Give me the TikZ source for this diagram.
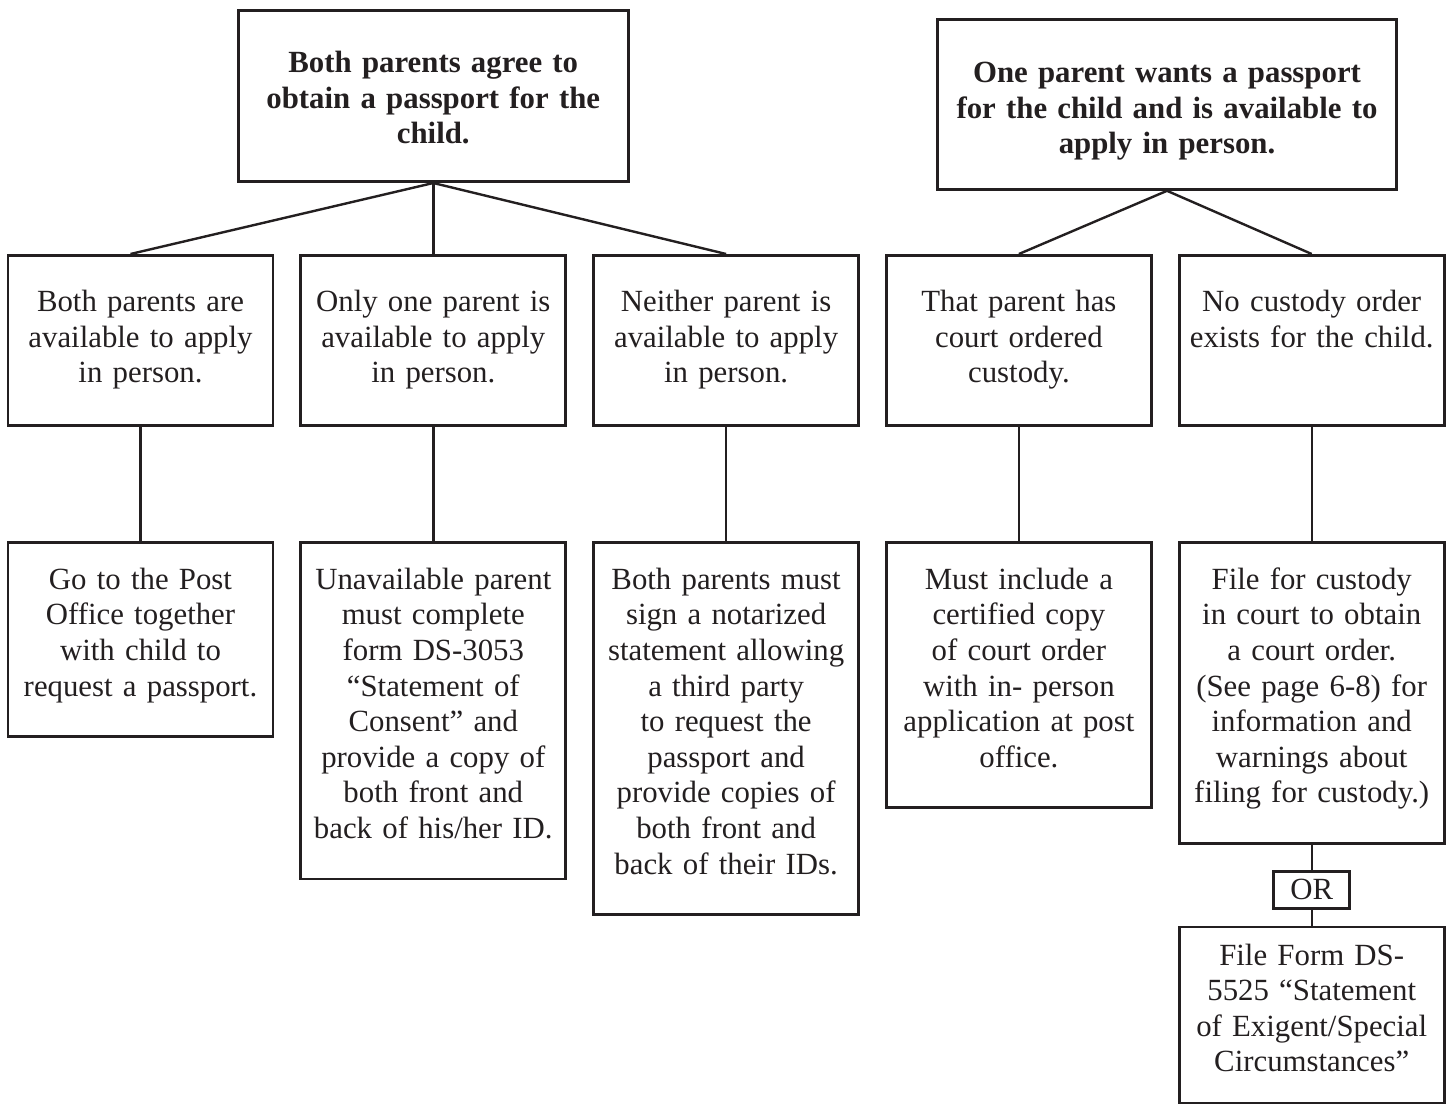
\documentclass[tikz,border=0pt]{standalone}
\usepackage{fontspec}
\setmainfont{Liberation Serif}
\usetikzlibrary{positioning}
\definecolor{ink}{HTML}{231F20}
\newcommand\boxfont{\fontsize{15.4pt}{17.8pt}\selectfont}
\tikzset{
box/.style={draw=ink,line width=1.4pt,text=ink,align=center,inner xsep=1pt,text width=130.5pt},
head/.style={box,font=\boxfont\bfseries,inner ysep=0pt,anchor=north},
choice/.style={box,text height=28pt,text depth=57pt,inner ysep=0pt},
todo/.style={box,text height=8.5pt,inner ysep=15pt,execute at end node=\strut},
lastbox/.style={box,text height=19pt,text depth=69pt,inner ysep=0pt},
orbox/.style={draw=ink,line width=1.4pt,text=ink,minimum width=38pt,minimum height=18.5pt,inner sep=0pt},
link/.style={draw=ink,line width=1.2pt}
}
\begin{document}
\begin{tikzpicture}[x=0.5pt,y=-0.5pt,every node/.style={font=\boxfont}]
\useasboundingbox (0,0) rectangle (1449,1103);
% situations
\node[choice,anchor=north] (bothavail) at (140.5,254) {Both parents are\\available to apply\\in person.};
\node[choice,right=12.5pt of bothavail] (oneavail) {Only one parent is\\available to apply\\in person.};
\node[choice,right=12.5pt of oneavail] (noneavail) {Neither parent is\\available to apply\\in person.};
\node[choice,right=12.5pt of noneavail] (custody) {That parent has\\court ordered\\custody.};
\node[choice,right=12.5pt of custody] (nocustody) {No custody order\\exists for the child.};
% the two cases
\node[head,text width=193pt,text height=31pt,text depth=54.5pt,above=35.5pt of oneavail] (agree) {Both parents agree to\\obtain a passport for the\\child.};
\node[head,text width=227.5pt,text height=31.5pt,text depth=53.5pt] (wants) at (1167,18) {One parent wants a passport\\for the child and is available to\\apply in person.};
% what to do
\node[todo,below=57pt of bothavail] (postoffice) {Go to the Post\\Office together\\with child to\\request a passport.};
\node[todo,below=57pt of oneavail] (consent) {Unavailable parent\\must complete\\form DS-3053\\“Statement of\\Consent” and\\provide a copy of\\both front and\\back of his/her ID.};
\node[todo,below=57pt of noneavail] (notarized) {Both parents must\\sign a notarized\\statement allowing\\a third party\\to request the\\passport and\\provide copies of\\both front and\\back of their IDs.};
\node[todo,below=57pt of custody] (certcopy) {Must include a\\certified copy\\of court order\\with in- person\\application at post\\office.};
\node[todo,below=57pt of nocustody] (filecustody) {File for custody\\in court to obtain\\a court order.\\(See page 6-8) for\\information and\\warnings about\\filing for custody.)};
\node[orbox,below=12.5pt of filecustody] (alt) {OR};
\node[lastbox,below=8pt of alt] (exigent) {File Form DS-\\5525 “Statement\\of Exigent/Special\\Circumstances”};
% connectors
\draw[link] (agree.south) -- ([xshift=-5pt]bothavail.north);
\foreach \a/\b in {agree/oneavail,agree/noneavail,wants/custody,wants/nocustody,
  bothavail/postoffice,oneavail/consent,noneavail/notarized,custody/certcopy,nocustody/filecustody,
  filecustody/alt,alt/exigent}
  \draw[link] (\a.south) -- (\b.north);
\end{tikzpicture}
\end{document}
